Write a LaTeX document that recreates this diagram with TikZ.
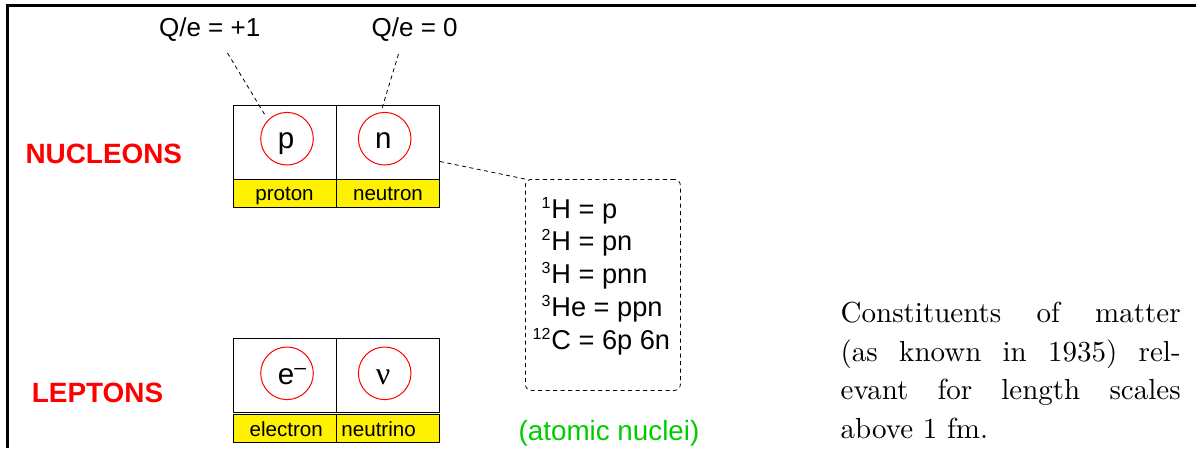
\documentclass[tikz,border=0pt]{standalone}
\usepackage{fontspec}
\usepackage{graphicx}
\newfontfamily\arial{Liberation Sans}
\newfontfamily\greekserif{Liberation Serif}
\newfontfamily\capfont{lmroman10-regular.otf}
\definecolor{nucgreen}{RGB}{0,204,0}
\newcommand\fs[1]{\fontsize{#1}{#1}\selectfont}
% isotope: mass number hung to the left of the element symbol
\newcommand\iso[2]{\llap{\raisebox{10pt}{\fs{16}#1}\hspace{1pt}}#2}

\begin{document}
\begin{tikzpicture}[x=1pt,y=-1pt,
  cell/.style={draw=black,line width=0.9pt,minimum width=103.3pt,minimum height=74pt,anchor=north west,inner sep=0pt},
  tag/.style={draw=black,fill=yellow,line width=0.9pt,minimum width=103.3pt,minimum height=28.3pt,anchor=north west,inner sep=0pt},
  particle/.style={draw=red,line width=1pt,circle,minimum size=52.6pt,inner sep=0pt},
  lead/.style={draw=black,line width=0.8pt,dash pattern=on 4pt off 3.5pt},
  txt/.style={anchor=base,inner sep=0pt},
  glyph/.style={txt,font=\arial\fs{29.5}},
  tagtext/.style={txt,font=\arial\fs{20.6}},
  group/.style={txt,font=\arial\bfseries\fs{27.9},text=red},
  charge/.style={txt,font=\arial\fs{26}},
  nucl/.style={txt,anchor=base west,font=\arial\fs{27.2}},
  caption/.style={anchor=base west,inner sep=0pt,font=\capfont\fs{29}},
]
\useasboundingbox (0,0) rectangle (1196,448);

% frame
\draw[line width=2.8pt] (1196,5.3) -- (7.2,5.3) -- (7.2,448);

% nucleon cells
\node[cell] (pcell) at (232.7,105) {};
\node[cell] (ncell) at (336,105) {};
\node[tag] (ptag) at (232.7,179) {};
\node[tag] (ntag) at (336,179) {};

% lepton cells
\node[cell] (ecell) at (232.7,338.3) {};
\node[cell] (nucell) at (336,338.3) {};
\node[tag] (etag) at (232.7,414) {};
\node[tag] (nutag) at (336,414) {};

% particles
\node[particle] (pc) at (287,138.7) {};
\node[particle] (nc) at (384.7,138.7) {};
\node[particle] (ec) at (287,373.3) {};
\node[particle] (vc) at (384.7,373.3) {};

\node[glyph] (pl) at (286,148.5) {p};
\node[glyph] (nl) at (383.3,148.5) {n};
\node[glyph] (el) at (292,384.5) {e\raisebox{10pt}{\fs{21}–}};
\node[txt,font=\greekserif\fs{32}] (vl) at (383,384.5) {ν};

\node[tagtext] (ptext) at (284.5,200.5) {proton};
\node[tagtext] (ntext) at (388,200.5) {neutron};
\node[tagtext] (etext) at (286.2,436.5) {electron};
\node[tagtext,anchor=base west] (vtext) at (341.2,436.5) {neutrino};

% group names
\node[group] (nucleons) at (103.8,163.3) {NUCLEONS};
\node[group] (leptons) at (97.5,402.7) {LEPTONS};

% charges
\node[charge] (qp) at (209.7,36.7) {Q/e = +1};
\node[charge] (qn) at (414.7,36.7) {Q/e = 0};
\coordinate (qpa) at (227.5,53);
\coordinate (qpb) at (265,115);
\coordinate (qna) at (398.5,54);
\coordinate (qnb) at (381.7,109.5);
\draw[lead] (qpa) -- (qpb);
\draw[lead] (qna) -- (qnb);

% atomic nuclei
\node[lead,rounded corners=6pt,minimum width=155pt,minimum height=211pt,anchor=north west,inner sep=0pt] (nbox) at (525,179) {};
\coordinate (linkstart) at (440,161.5);
\draw[lead] (linkstart) -- (nbox.north west);

\node[nucl] (iso1) at (551.2,218) {\iso{1}{H = p}};
\node[nucl] (iso2) at (551.2,250.9) {\iso{2}{H = pn}};
\node[nucl] (iso3) at (551.2,283.8) {\iso{3}{H = pnn}};
\node[nucl] (iso4) at (551.2,316.7) {\iso{3}{He = ppn}};
\node[nucl] (iso5) at (551.2,349.6) {\iso{12}{C = 6p 6n}};

\node[txt,font=\arial\fs{27.8},text=nucgreen] (atomic) at (609,440) {(atomic nuclei)};

% caption
\node[caption] (cap1) at (840.5,322.7) {\makebox[340pt][s]{Constituents of matter}};
\node[caption] (cap2) at (840.5,361.2) {\makebox[340pt][s]{(as known in 1935) rel-}};
\node[caption] (cap3) at (840.5,399.7) {\makebox[340pt][s]{evant for length scales}};
\node[caption] (cap4) at (840.5,438.2) {above 1 fm.};
\end{tikzpicture}
\end{document}
